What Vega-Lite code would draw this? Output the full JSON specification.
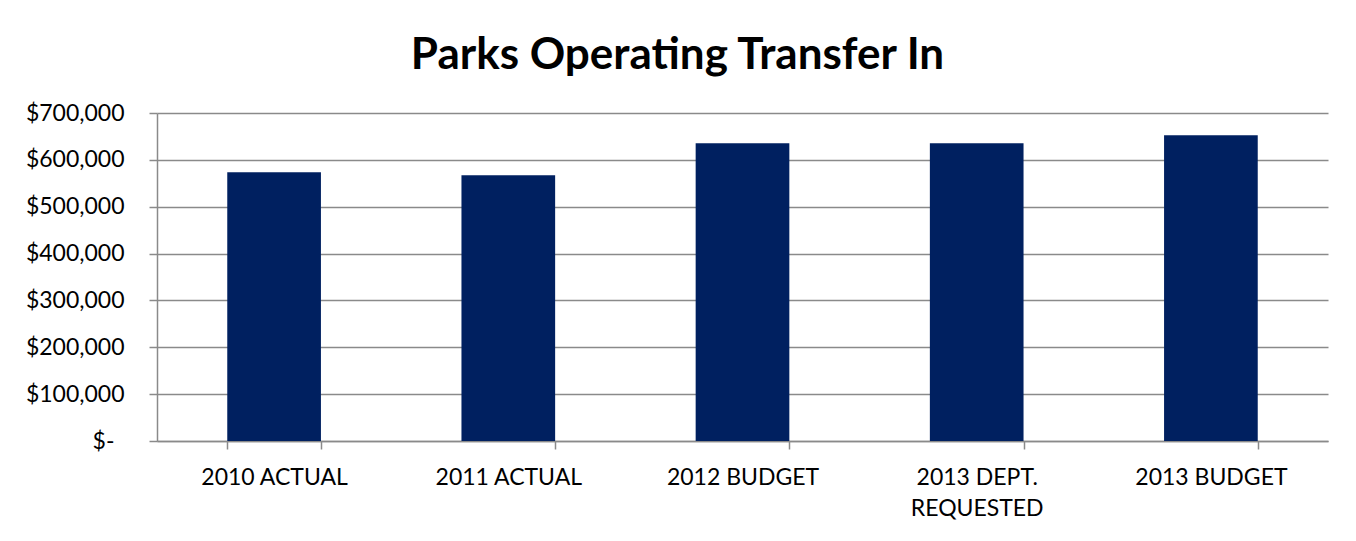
{
  "$schema": "https://vega.github.io/schema/vega-lite/v6.json",
  "width": 1171,
  "height": 328,
  "autosize": {"type": "none"},
  "padding": {"left": 157, "top": 113, "right": 28, "bottom": 100},
  "background": "white",
  "title": {
    "text": "Parks Operating Transfer In",
    "font": "Lato",
    "fontSize": 44,
    "fontWeight": "bold",
    "color": "black",
    "anchor": "middle",
    "baseline": "alphabetic",
    "offset": -11,
    "dx": -65
  },
  "data": {
    "values": [
      {"category": "2010 ACTUAL", "amount": 573600},
      {"category": "2011 ACTUAL", "amount": 567200},
      {"category": "2012 BUDGET", "amount": 635400},
      {"category": "2013 DEPT. REQUESTED", "amount": 635400},
      {"category": "2013 BUDGET", "amount": 652400}
    ]
  },
  "mark": {"type": "bar", "color": "#002060"},
  "encoding": {
    "x": {
      "field": "category",
      "type": "nominal",
      "sort": null,
      "scale": {"paddingInner": 0.6, "paddingOuter": 0.3},
      "axis": {
        "title": null,
        "labelAngle": 0,
        "labelFont": "Lato",
        "labelFontSize": 23,
        "labelColor": "black",
        "labelPadding": 17,
        "labelLineHeight": 31,
        "labelExpr": "datum.label == '2013 DEPT. REQUESTED' ? ['2013 DEPT.', 'REQUESTED'] : datum.label",
        "tickBand": "extent",
        "tickSize": 8,
        "tickColor": "#8a8a8a",
        "domainColor": "#8a8a8a",
        "domainWidth": 1.5,
        "tickWidth": 1.5
      }
    },
    "y": {
      "field": "amount",
      "type": "quantitative",
      "scale": {"domain": [0, 700000], "nice": false},
      "axis": {
        "title": null,
        "values": [0, 100000, 200000, 300000, 400000, 500000, 600000, 700000],
        "labelExpr": "datum.value == 0 ? '$-' : '$' + format(datum.value, ',')",
        "labelFont": "Lato",
        "labelFontSize": 23,
        "labelColor": "black",
        "labelPadding": {"condition": {"test": "datum.value == 0", "value": 35}, "value": 25},
        "tickSize": 8,
        "tickColor": "#8a8a8a",
        "tickWidth": 1.5,
        "domainColor": "#8a8a8a",
        "domainWidth": 1.5,
        "gridColor": "#8a8a8a",
        "gridWidth": 1.5
      }
    }
  },
  "config": {"view": {"stroke": null}}
}
